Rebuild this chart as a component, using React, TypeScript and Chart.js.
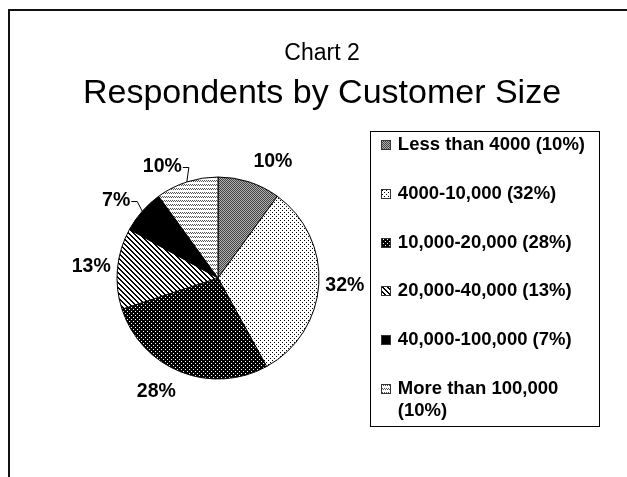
import React, { useEffect, useRef } from 'react';
import { Chart, registerables, layouts } from 'chart.js';

Chart.register(...registerables);

// ---------------- data ----------------
const CHART_LABEL = 'Chart 2';
const CHART_TITLE = 'Respondents by Customer Size';
const CATEGORIES = [
  'Less than 4000',
  '4000-10,000',
  '10,000-20,000',
  '20,000-40,000',
  '40,000-100,000',
  'More than 100,000',
];
const SHARES = [10, 32, 28, 13, 7, 10];

const FONT = "'Liberation Sans', Arial, Helvetica, sans-serif";

// ---------------- fill patterns (monochrome hatches) ----------------
type Tile = { rows: string[]; ink: string; paper: string };
const TILES: Tile[] = [
  { rows: ['#.', '.#'], ink: '#444444', paper: '#b0b0b0' },
  { rows: ['#...', '....', '..#.', '....'], ink: '#000000', paper: '#ffffff' },
  { rows: ['....', '.#..', '....', '...#'], ink: '#ffffff', paper: '#000000' },
  { rows: ['##...', '.##..', '..##.', '...##', '#...#'], ink: '#000000', paper: '#ffffff' },
  { rows: ['#'], ink: '#000000', paper: '#000000' },
  { rows: ['#.#.', '.#.#', '....', '....'], ink: '#555555', paper: '#ffffff' },
];

function makePattern(t: Tile): CanvasPattern | string {
  const h = t.rows.length;
  const w = t.rows[0].length;
  const c = document.createElement('canvas');
  c.width = w;
  c.height = h;
  const g = c.getContext('2d');
  if (!g) return t.paper;
  g.fillStyle = t.paper;
  g.fillRect(0, 0, w, h);
  g.fillStyle = t.ink;
  t.rows.forEach((r, y) => {
    r.split('').forEach((ch, x) => {
      if (ch === '#') g.fillRect(x, y, 1, 1);
    });
  });
  return g.createPattern(c, 'repeat') || t.paper;
}

// ---------------- styles ----------------
const LEGEND_AREA_W = 208;
const LEG = {
  size: 18.5,
  padL: 11,
  mark: 10,
  gap: 7,
  padR: 14,
  padT: 14.5,
  padB: 14.5,
  row: 48.7,
  line: 22,
  wrapWidth: 200,
};
const SLICE_LABEL = {
  size: 19.5,
  gapBase: 6,
  gapExtra: 8,
  halfHeight: 7,
  leaderGap: 16,
  leaders: [4, 5],
};

function wrapText(ctx: CanvasRenderingContext2D, text: string, maxW: number): string[] {
  const words = text.split(' ');
  const lines: string[] = [];
  let cur = '';
  words.forEach((w) => {
    const test = cur ? cur + ' ' + w : w;
    if (cur && ctx.measureText(test).width > maxW) {
      lines.push(cur);
      cur = w;
    } else {
      cur = test;
    }
  });
  if (cur) lines.push(cur);
  return lines;
}

// ---------------- plugins ----------------
const framePlugin = {
  id: 'slideFrame',
  beforeDraw(chart: any) {
    const { ctx, width, height } = chart;
    ctx.save();
    ctx.fillStyle = '#111111';
    ctx.fillRect(8, 9, width - 8, 2);
    ctx.fillRect(8, 9, 2, height - 9);
    ctx.restore();
  },
};

function drawLegend(chart: any, area: any) {
  const ctx: CanvasRenderingContext2D = chart.ctx;
  const fills = chart.data.datasets[0].backgroundColor as any[];
  const labels = (chart.data.labels as string[]).map(
    (c, i) => `${c} (${chart.data.datasets[0].data[i]}%)`
  );
  ctx.save();
  ctx.font = `bold ${LEG.size}px ${FONT}`;
  const items = labels.map((t) => wrapText(ctx, t, LEG.wrapWidth));
  let textW = 0;
  items.forEach((lines) => lines.forEach((l) => (textW = Math.max(textW, ctx.measureText(l).width))));
  const boxW = LEG.padL + LEG.mark + LEG.gap + textW + LEG.padR;
  const extra = items.reduce((s, it) => s + it.length - 1, 0);
  const boxH = LEG.padT + (items.length - 1) * LEG.row + extra * LEG.line + LEG.padB;
  const right = area.right;
  const left = right - boxW;
  const top = area.top + (area.height - boxH) / 2;

  ctx.strokeStyle = '#000';
  ctx.lineWidth = 1;
  ctx.strokeRect(Math.round(left) + 0.5, Math.round(top) + 0.5, Math.round(boxW), Math.round(boxH));

  let cy = top + LEG.padT;
  items.forEach((lines, i) => {
    const mx = Math.round(left + LEG.padL);
    const my = Math.round(cy - LEG.mark / 2);
    ctx.fillStyle = fills[i];
    ctx.fillRect(mx, my, LEG.mark, LEG.mark);
    ctx.strokeStyle = '#333';
    ctx.strokeRect(mx + 0.5, my + 0.5, LEG.mark - 1, LEG.mark - 1);
    ctx.fillStyle = '#000';
    ctx.textAlign = 'left';
    ctx.textBaseline = 'middle';
    lines.forEach((l, k) => ctx.fillText(l, left + LEG.padL + LEG.mark + LEG.gap, cy + k * LEG.line));
    cy += LEG.row + (lines.length - 1) * LEG.line;
  });
  ctx.restore();
}

const sideLegendPlugin = {
  id: 'sideLegend',
  beforeInit(chart: any) {
    const box: any = {
      position: 'right',
      weight: 0,
      fullSize: false,
      options: {},
      left: 0,
      top: 0,
      right: 0,
      bottom: 0,
      width: 0,
      height: 0,
      update(maxWidth: number, maxHeight: number) {
        this.width = Math.min(LEGEND_AREA_W, maxWidth);
        this.height = maxHeight;
      },
      isHorizontal() {
        return false;
      },
      draw() {
        drawLegend(chart, this);
      },
    };
    chart.$sideLegend = box;
    layouts.addBox(chart, box);
  },
};

const sliceLabelPlugin = {
  id: 'sliceLabels',
  afterDatasetsDraw(chart: any) {
    const meta = chart.getDatasetMeta(0);
    const ctx: CanvasRenderingContext2D = chart.ctx;
    const values = chart.data.datasets[0].data as number[];
    ctx.save();
    ctx.font = `bold ${SLICE_LABEL.size}px ${FONT}`;
    ctx.fillStyle = '#000';
    ctx.strokeStyle = '#000';
    ctx.lineWidth = 1;
    ctx.textAlign = 'center';
    ctx.textBaseline = 'middle';
    meta.data.forEach((arc: any, i: number) => {
      const { x, y, startAngle, endAngle, outerRadius } = arc.getProps(
        ['x', 'y', 'startAngle', 'endAngle', 'outerRadius'],
        true
      );
      const mid = (startAngle + endAngle) / 2;
      const ux = Math.cos(mid);
      const uy = Math.sin(mid);
      const text = `${values[i]}%`;
      const hw = ctx.measureText(text).width / 2;
      let cx: number;
      let cy: number;
      if (SLICE_LABEL.leaders.includes(i)) {
        const r = outerRadius + SLICE_LABEL.leaderGap;
        const ax = x + r * ux;
        const ay = y + r * uy;
        const dir = ux < 0 ? 1 : -1;
        cx = ax - dir * hw;
        cy = ay;
        ctx.beginPath();
        ctx.moveTo(ax + dir * 1, Math.round(ay) + 0.5);
        ctx.lineTo(ax + dir * 7, Math.round(ay) + 0.5);
        ctx.lineTo(x + outerRadius * ux, y + outerRadius * uy);
        ctx.stroke();
      } else {
        const r = outerRadius + SLICE_LABEL.gapBase + SLICE_LABEL.gapExtra * Math.abs(uy);
        const ax = x + r * ux;
        const ay = y + r * uy;
        const sx = Math.max(-1, Math.min(1, ux * 4));
        const sy = Math.max(-1, Math.min(1, uy * 2));
        cx = ax + hw * sx;
        cy = ay + SLICE_LABEL.halfHeight * sy;
      }
      ctx.fillText(text, cx, cy);
    });
    ctx.restore();
  },
};

export default function App() {
  const ref = useRef<HTMLCanvasElement>(null);
  useEffect(() => {
    const canvas = ref.current;
    if (!canvas) return;
    const fills = TILES.map(makePattern);
    const chart = new Chart(canvas, {
      type: 'pie',
      data: {
        labels: CATEGORIES,
        datasets: [
          {
            data: SHARES,
            backgroundColor: fills as any,
            borderColor: '#000000',
            borderWidth: 1,
          },
        ],
      },
      options: {
        responsive: false,
        animation: false,
        events: [],
        radius: 101,
        layout: { padding: { top: 40.2, bottom: 35.4, left: 45, right: 28 } },
        plugins: {
          legend: { display: false },
          tooltip: { enabled: false },
          title: {
            display: true,
            text: CHART_LABEL,
            color: '#000',
            font: { family: FONT, size: 23, weight: 'normal', lineHeight: 1.2 },
            padding: { top: 0, bottom: 0 },
          },
          subtitle: {
            display: true,
            text: CHART_TITLE,
            color: '#000',
            font: { family: FONT, size: 34, weight: 'normal', lineHeight: 1.2 },
            padding: { top: 5.8, bottom: 0 },
          },
        },
      } as any,
      plugins: [framePlugin, sideLegendPlugin, sliceLabelPlugin],
    });
    return () => chart.destroy();
  }, []);
  return (
    <div style={{ position: 'fixed', left: 0, top: 0, width: 627, height: 477, background: '#fff' }}>
      <canvas ref={ref} width={627} height={477} style={{ display: 'block' }} />
    </div>
  );
}
